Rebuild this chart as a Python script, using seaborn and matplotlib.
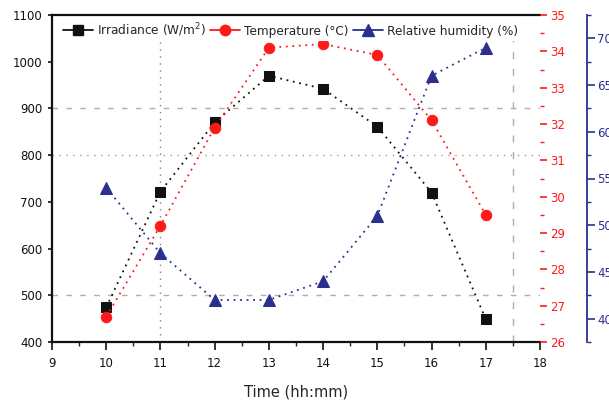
import matplotlib
matplotlib.use("Agg")
import matplotlib.pyplot as plt
from matplotlib.lines import Line2D
from matplotlib.ticker import MultipleLocator
import seaborn as sns
import pandas as pd

# ---- data ----
hours = [10, 11, 12, 13, 14, 15, 16, 17]
irradiance = [474, 722, 870, 970, 942, 861, 720, 449]
temperature = [26.7, 29.2, 31.9, 34.1, 34.2, 33.9, 32.1, 29.5]
humidity = [54, 47, 42, 42, 44, 51, 66, 69]

labels = ["Irradiance (W/m$^2$)", "Temperature (\u00b0C)", "Relative humidity (%)"]
x_label = "Time (hh:mm)"

df = pd.DataFrame({"hour": hours, "irr": irradiance, "temp": temperature, "rh": humidity})

sns.set_style("ticks")
plt.rcParams["font.family"] = ["DejaVu Sans"]

BLACK = "#111111"
RED = "#ff1a1a"
BLUE = "#2b2f8f"
GRID = "#b5aca4"

fig = plt.figure(figsize=(6.09, 4.03), dpi=100)
ax = fig.add_axes([52 / 609, 1 - 342 / 403, 488 / 609, 327 / 403])
ax2 = ax.twinx()
ax3 = ax.twinx()

dot = (0, (1, 2.6))

# reference lines
ax.axhline(900, color=GRID, lw=1.0, ls=(0, (4, 6)), zorder=0)
ax.axhline(500, color=GRID, lw=1.0, ls=(0, (4, 6)), zorder=0)
ax.axhline(800, color="#9a9a9a", lw=1.0, ls=(0, (1, 4)), zorder=0)
ax.axvline(11, ymin=0.02, ymax=0.92, color="#808080", lw=1.0, ls=(0, (1, 4)), zorder=0)
ax.axvline(17.5, color=GRID, lw=1.0, ls=(0, (5, 7)), zorder=0)

sns.lineplot(data=df, x="hour", y="irr", ax=ax, color=BLACK, marker="s",
             markersize=7, markeredgecolor=BLACK, linestyle=dot, lw=1.3)
sns.lineplot(data=df, x="hour", y="temp", ax=ax2, color=RED, marker="o",
             markersize=7.5, markeredgecolor=RED, linestyle=dot, lw=1.3)
sns.lineplot(data=df, x="hour", y="rh", ax=ax3, color=BLUE, marker="^",
             markersize=8, markeredgecolor=BLUE, linestyle=dot, lw=1.3)

# x axis
ax.set_xlim(9, 18)
ax.xaxis.set_major_locator(MultipleLocator(1))
ax.xaxis.set_minor_locator(MultipleLocator(0.5))
ax.set_xlabel(x_label, fontsize=10.5, labelpad=10)
ax.tick_params(axis="x", which="major", direction="out", length=6, width=1.2,
               labelsize=8.5, pad=5, colors=BLACK)
ax.tick_params(axis="x", which="minor", direction="out", length=3, width=1.0)

# left axis
ax.set_ylim(400, 1100)
ax.yaxis.set_major_locator(MultipleLocator(100))
ax.set_ylabel("")
ax.tick_params(axis="y", which="major", direction="out", length=3, width=1.2,
               labelsize=8.5, pad=4, colors=BLACK)

for s in ["left", "bottom", "top"]:
    ax.spines[s].set_linewidth(1.6)
    ax.spines[s].set_color(BLACK)
ax.spines["right"].set_visible(False)

# red axis
ax2.set_ylim(26, 35)
ax2.yaxis.set_major_locator(MultipleLocator(1))
ax2.yaxis.set_minor_locator(MultipleLocator(0.5))
ax2.set_ylabel("")
ax2.tick_params(axis="y", which="major", direction="out", length=5, width=1.2,
                labelsize=8.5, pad=2, colors=RED)
ax2.tick_params(axis="y", which="minor", direction="out", length=3, width=1.0, colors=RED)
for s in ["left", "bottom", "top", "right"]:
    ax2.spines[s].set_visible(False)

# blue axis
ax3.set_ylim(37.5, 72.5)
ax3.yaxis.set_major_locator(MultipleLocator(5))
ax3.yaxis.set_minor_locator(MultipleLocator(2.5))
ax3.set_ylabel("")
ax3.spines["right"].set_position(("outward", 34))
ax3.spines["right"].set_color(BLUE)
ax3.spines["right"].set_linewidth(1.3)
for s in ["left", "bottom", "top"]:
    ax3.spines[s].set_visible(False)
ax3.tick_params(axis="y", which="major", direction="out", length=6, width=1.2,
                labelsize=8.5, pad=1, colors=BLUE)
ax3.tick_params(axis="y", which="minor", direction="out", length=3, width=1.0, colors=BLUE)

# legend
handles = [
    Line2D([], [], color=BLACK, marker="s", markersize=7, lw=1.3),
    Line2D([], [], color=RED, marker="o", markersize=7.5, lw=1.3),
    Line2D([], [], color=BLUE, marker="^", markersize=8, lw=1.3),
]
leg = ax3.legend(handles, labels, loc="center left", bbox_to_anchor=(0.017, 0.954),
                 ncol=3, fontsize=8.7, frameon=True, framealpha=1, facecolor="white",
                 edgecolor="none", borderpad=0.2, borderaxespad=0, handlelength=2.5,
                 handletextpad=0.35, columnspacing=0.3, fancybox=False)
leg.set_zorder(10)

fig.savefig("out.png", dpi=100)
